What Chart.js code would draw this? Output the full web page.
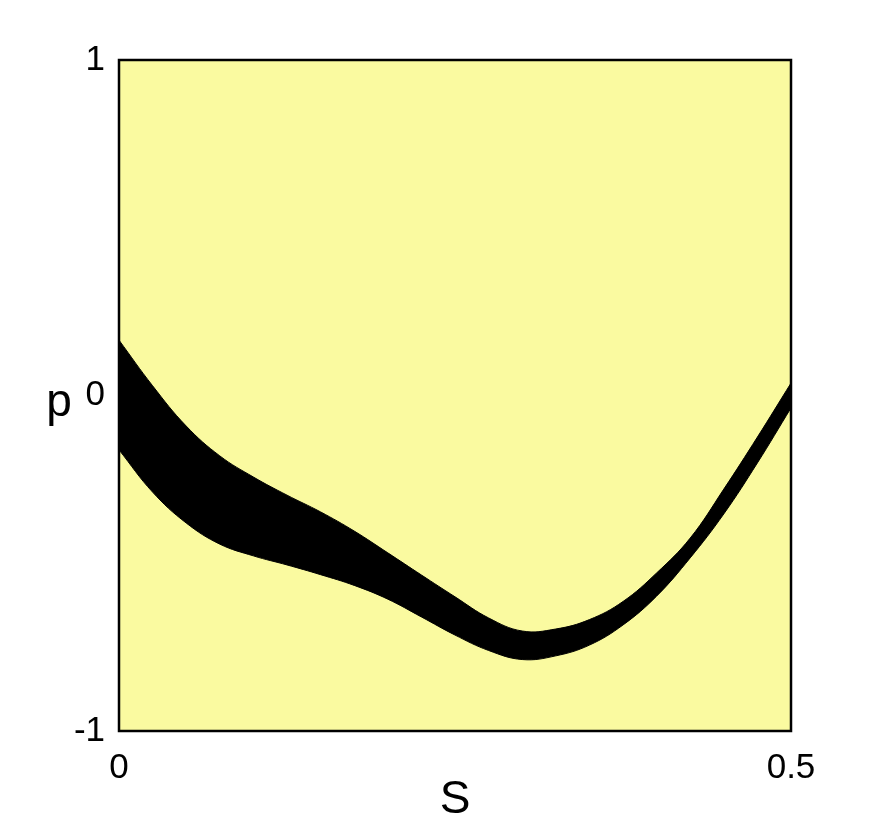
<!DOCTYPE html>
<html>
<head>
<meta charset="utf-8">
<script src="https://cdn.jsdelivr.net/npm/chart.js@4.4.1/dist/chart.umd.min.js"></script>
<style>
  html, body { margin: 0; padding: 0; background: #ffffff; }
  #wrap { width: 879px; height: 821px; }
</style>
</head>
<body>
<div id="wrap"><canvas id="c" width="879" height="821"></canvas></div>
<script>
// Data
const sValues = [0, 0.025, 0.05, 0.075, 0.1, 0.125, 0.15, 0.175, 0.2, 0.225, 0.25,
                 0.275, 0.3, 0.325, 0.35, 0.375, 0.4, 0.425, 0.45, 0.475, 0.5];
const upperP = [0.165, 0.029, -0.091, -0.180, -0.243, -0.297, -0.347, -0.404, -0.469, -0.535, -0.600,
                -0.663, -0.702, -0.696, -0.668, -0.614, -0.529, -0.425, -0.279, -0.124, 0.037];
const lowerP = [-0.162, -0.288, -0.380, -0.443, -0.478, -0.505, -0.534, -0.566, -0.607, -0.660, -0.714,
                -0.760, -0.787, -0.776, -0.744, -0.684, -0.598, -0.484, -0.353, -0.201, -0.037];
const xTickValues = [0, 0.5];
const yTickValues = [-1, 0, 1];
const xTitle = 'S';
const yTitle = 'p';

const plotBg = 'rgb(250,250,160)';
const FONT = '"Liberation Sans", Arial, sans-serif';

const areaPlugin = {
  id: 'areaPlugin',
  beforeDatasetsDraw(chart) {
    const a = chart.chartArea, ctx = chart.ctx;
    ctx.save();
    ctx.fillStyle = plotBg;
    ctx.fillRect(a.left, a.top, a.right - a.left, a.bottom - a.top);
    ctx.restore();
  },
  afterDatasetsDraw(chart) {
    const a = chart.chartArea, ctx = chart.ctx;
    ctx.save();
    ctx.strokeStyle = '#000';
    ctx.lineWidth = 2.5;
    ctx.strokeRect(a.left, a.top, a.right - a.left, a.bottom - a.top);
    // upright y-axis title
    const ys = chart.scales.y;
    ctx.fillStyle = '#000';
    ctx.font = '46px ' + FONT;
    ctx.textAlign = 'center';
    ctx.textBaseline = 'alphabetic';
    ctx.fillText(yTitle, 59, ys.getPixelForValue(0) + 20);
    ctx.restore();
  }
};

const toPts = (ys) => sValues.map((s, i) => ({ x: s, y: ys[i] }));

new Chart(document.getElementById('c'), {
  type: 'scatter',
  data: {
    datasets: [
      { data: toPts(upperP), showLine: true, borderColor: '#000', backgroundColor: '#000',
        borderWidth: 1, pointRadius: 0, tension: 0.4, fill: '+1' },
      { data: toPts(lowerP), showLine: true, borderColor: '#000', backgroundColor: '#000',
        borderWidth: 1, pointRadius: 0, tension: 0.4, fill: false }
    ]
  },
  options: {
    responsive: false,
    animation: false,
    devicePixelRatio: 1,
    layout: { padding: { left: 0, top: 60, right: 88, bottom: 0 } },
    plugins: { legend: { display: false }, tooltip: { enabled: false } },
    scales: {
      x: {
        type: 'linear', min: 0, max: 0.5,
        afterBuildTicks: (sc) => { sc.ticks = xTickValues.map(v => ({ value: v })); },
        afterFit: (sc) => { sc.height = 90; },
        grid: { display: false, drawTicks: false },
        border: { display: false },
        ticks: { color: '#000', font: { family: FONT, size: 35 }, padding: 16, maxRotation: 0,
                 callback: (v) => String(v) },
        title: { display: true, text: xTitle, color: '#000', font: { family: FONT, size: 46 },
                 padding: { top: 0, bottom: -7 } }
      },
      y: {
        type: 'linear', min: -1, max: 1,
        afterBuildTicks: (sc) => { sc.ticks = yTickValues.map(v => ({ value: v })); },
        afterFit: (sc) => { sc.width = 119; },
        grid: { display: false, drawTicks: false },
        border: { display: false },
        ticks: { color: '#000', font: { family: FONT, size: 35 }, padding: 14,
                 callback: (v) => String(v) }
      }
    }
  },
  plugins: [areaPlugin]
});
</script>
</body>
</html>
